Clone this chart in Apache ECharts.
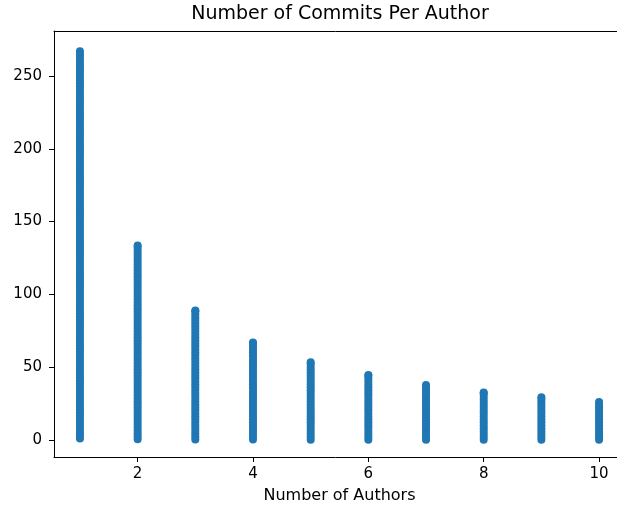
<!DOCTYPE html>
<html>
<head>
<meta charset="utf-8">
<script src="https://cdn.jsdelivr.net/npm/echarts@6/dist/echarts.min.js"></script>
<style>
  html, body { margin: 0; padding: 0; background: #fff; }
  #chart { width: 617px; height: 512px; }
</style>
</head>
<body>
<div id="chart"></div>
<script>
// Commits per author, grouped by the number of authors on a project
const authorCounts = [1, 2, 3, 4, 5, 6, 7, 8, 9, 10];

const perAuthor1 = [1, 3, 5, 7, 9, 11, 13, 15, 17, 19, 21, 23, 25, 27, 29, 31, 33, 35, 37, 39,
  41, 43, 45, 47, 49, 51, 53, 55, 57, 59, 61, 63, 65, 67, 69, 71, 73, 75, 77, 79,
  81, 83, 85, 87, 89, 91, 93, 95, 97, 99, 101, 103, 105, 107, 109, 111, 113, 115, 117, 119,
  121, 123, 125, 127, 129, 131, 133, 135, 137, 139, 141, 143, 145, 147, 149, 151, 153, 155, 157, 159,
  161, 163, 165, 167, 169, 171, 173, 175, 177, 179, 181, 183, 185, 187, 189, 191, 193, 195, 197, 199,
  201, 203, 205, 207, 209, 211, 213, 215, 217, 219, 221, 223, 225, 227, 229, 231, 233, 235, 237, 239,
  241, 243, 245, 247, 249, 251, 253, 255, 257, 259, 261, 263, 265, 267];
const perAuthor2 = [0.5, 2.5, 4.5, 6.5, 8.5, 10.5, 12.5, 14.5, 16.5, 18.5, 20.5, 22.5, 24.5, 26.5, 28.5,
  30.5, 32.5, 34.5, 36.5, 38.5, 40.5, 42.5, 44.5, 46.5, 48.5, 50.5, 52.5, 54.5, 56.5, 58.5,
  60.5, 62.5, 64.5, 66.5, 68.5, 70.5, 72.5, 74.5, 76.5, 78.5, 80.5, 82.5, 84.5, 86.5, 88.5,
  90.5, 92.5, 94.5, 96.5, 98.5, 100.5, 102.5, 104.5, 106.5, 108.5, 110.5, 112.5, 114.5, 116.5, 118.5,
  120.5, 122.5, 124.5, 126.5, 128.5, 130.5, 132.5, 133.5];
const perAuthor3 = [0.33, 2.33, 4.33, 6.33, 8.33, 10.33, 12.33, 14.33, 16.33, 18.33, 20.33, 22.33, 24.33,
  26.33, 28.33, 30.33, 32.33, 34.33, 36.33, 38.33, 40.33, 42.33, 44.33, 46.33, 48.33, 50.33,
  52.33, 54.33, 56.33, 58.33, 60.33, 62.33, 64.33, 66.33, 68.33, 70.33, 72.33, 74.33, 76.33,
  78.33, 80.33, 82.33, 84.33, 86.33, 88.33, 89];
const perAuthor4 = [0.25, 2.25, 4.25, 6.25, 8.25, 10.25, 12.25, 14.25, 16.25, 18.25, 20.25, 22.25, 24.25,
  26.25, 28.25, 30.25, 32.25, 34.25, 36.25, 38.25, 40.25, 42.25, 44.25, 46.25, 48.25, 50.25,
  52.25, 54.25, 56.25, 58.25, 60.25, 62.25, 64.25, 66.25, 67];
const perAuthor5 = [0.2, 2.2, 4.2, 6.2, 8.2, 10.2, 12.2, 14.2, 16.2, 18.2, 20.2, 22.2, 24.2, 26.2,
  28.2, 30.2, 32.2, 34.2, 36.2, 38.2, 40.2, 42.2, 44.2, 46.2, 48.2, 50.2, 52.2, 53.4];
const perAuthor6 = [0.17, 2.17, 4.17, 6.17, 8.17, 10.17, 12.17, 14.17, 16.17, 18.17, 20.17, 22.17,
  24.17, 26.17, 28.17, 30.17, 32.17, 34.17, 36.17, 38.17, 40.17, 42.17, 44.17, 44.67];
const perAuthor7 = [0.14, 2.14, 4.14, 6.14, 8.14, 10.14, 12.14, 14.14, 16.14, 18.14, 20.14, 22.14,
  24.14, 26.14, 28.14, 30.14, 32.14, 34.14, 36.14, 37.71];
const perAuthor8 = [0.13, 2.13, 4.13, 6.13, 8.13, 10.13, 12.13, 14.13, 16.13, 18.13, 20.13, 22.13,
  24.13, 26.13, 28.13, 30.13, 32.13, 32.63];
const perAuthor9 = [0.11, 2.11, 4.11, 6.11, 8.11, 10.11, 12.11, 14.11, 16.11, 18.11, 20.11, 22.11,
  24.11, 26.11, 28.11, 29.33];
const perAuthor10 = [0.1, 2.1, 4.1, 6.1, 8.1, 10.1, 12.1, 14.1, 16.1, 18.1, 20.1, 22.1, 24.1, 26.1];

const yTickValues = [0, 50, 100, 150, 200, 250];
const xTickValues = [2, 4, 6, 8, 10];

const columns = [perAuthor1, perAuthor2, perAuthor3, perAuthor4, perAuthor5,
                 perAuthor6, perAuthor7, perAuthor8, perAuthor9, perAuthor10];

const points = [];
authorCounts.forEach(function (n, i) {
  columns[i].forEach(function (v) { points.push([n, v]); });
});

const font = 'DejaVu Sans';
const xMin = 0.55, xMax = 10.311;
const chart = echarts.init(document.getElementById('chart'), null, { renderer: 'canvas' });

chart.setOption({
  animation: false,
  backgroundColor: '#ffffff',
  title: {
    text: 'Number of Commits Per Author',
    left: 340,
    textAlign: 'center',
    top: 0,
    padding: [5, 0, 0, 0],
    textStyle: { fontFamily: font, fontSize: 19, fontWeight: 'normal', color: '#000' }
  },
  grid: { left: 54, top: 31, width: 563, height: 426 },
  xAxis: [{
    type: 'value',
    min: xMin, max: xMax,
    name: 'Number of Authors',
    nameLocation: 'middle',
    nameGap: 31,
    nameTextStyle: { fontFamily: font, fontSize: 16, color: '#000', padding: [0, 0, 0, 8] },
    splitLine: { show: false },
    axisLine: { show: true, onZero: false, lineStyle: { color: '#000', width: 1 } },
    axisTick: { show: true, length: 5, customValues: xTickValues, lineStyle: { color: '#000', width: 1 } },
    axisLabel: { customValues: xTickValues, margin: 10, fontFamily: font, fontSize: 15, color: '#000' }
  }, {
    // top frame line
    type: 'value',
    position: 'top',
    min: xMin, max: xMax,
    splitLine: { show: false },
    axisLine: { show: true, onZero: false, lineStyle: { color: '#000', width: 1 } },
    axisTick: { show: false },
    axisLabel: { show: false }
  }],
  yAxis: {
    type: 'value',
    min: -11.7, max: 280.9,
    splitLine: { show: false },
    axisLine: { show: true, onZero: false, lineStyle: { color: '#000', width: 1 } },
    axisTick: { show: true, length: 5, customValues: yTickValues, lineStyle: { color: '#000', width: 1 } },
    axisLabel: { customValues: yTickValues, margin: 12, fontFamily: font, fontSize: 15, color: '#000' }
  },
  series: [{
    type: 'scatter',
    xAxisIndex: 0,
    data: points,
    symbol: 'circle',
    symbolSize: 8,
    itemStyle: { color: '#1f77b4', opacity: 1 },
    emphasis: { disabled: true },
    silent: true
  }]
});
</script>
</body>
</html>
